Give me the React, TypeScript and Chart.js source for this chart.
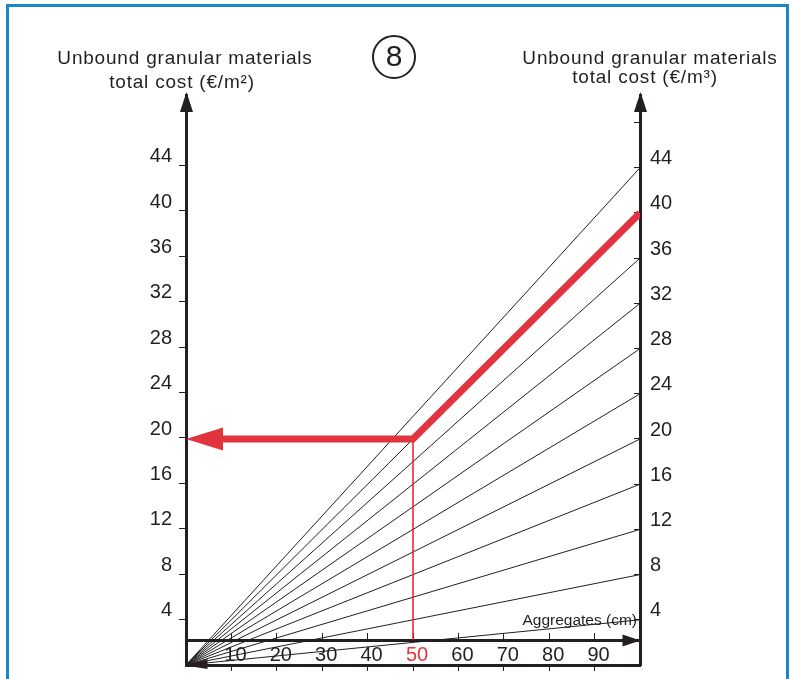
import React, { useEffect, useRef } from 'react';
import { Chart, registerables } from 'chart.js';

Chart.register(...registerables);

// ---------------- data ----------------
const THICKNESS_TICKS_CM = [10, 20, 30, 40, 50, 60, 70, 80, 90];
const COST_M2_TICKS = [4, 8, 12, 16, 20, 24, 28, 32, 36, 40, 44];
const COST_M3_TICKS = [4, 8, 12, 16, 20, 24, 28, 32, 36, 40, 44];
const COST_M3_MARKS = [4, 8, 12, 16, 20, 24, 28, 32, 36, 40, 44, 48];
const COST_M3_LINES = [4, 8, 12, 16, 20, 24, 28, 32, 36, 40, 44];
const EXAMPLE_THICKNESS_CM = [100, 50];
const EXAMPLE_COST = [40, 20]; // €/m³ at 100 cm -> €/m² at 50 cm
const HIGHLIGHT_TICK = 50;

const LEFT_TITLE = ['Unbound granular materials', 'total cost (€/m²)'];
const RIGHT_TITLE = ['Unbound granular materials', 'total cost (€/m³)'];
const X_TITLE = 'Aggregates (cm)';
const STEP_NUMBER = '8';

// ---------------- style ----------------
const BLACK = '#231f20';
const RED = '#e1343f';
const RED_THIN = '#ec1c24';
const BLUE = '#1a88c6';
const FONT = "'Liberation Sans', Arial, Helvetica, sans-serif";
const AGG_AXIS_Y = 2.2; // where the aggregates axis crosses the left scale
const ARROW_STOP_CM = 6;

const clear = 'rgba(0,0,0,0)';
const markColor = (list: number[]) => (c: any) =>
  c.tick && list.includes(c.tick.value) ? BLACK : clear;

const fixSize = (w: number | null, h: number | null) => (s: any) => {
  if (w !== null) s.width = w;
  if (h !== null) s.height = h;
  s.paddingTop = 0;
  s.paddingBottom = 0;
  s.paddingLeft = 0;
  s.paddingRight = 0;
};

function tri(ctx: CanvasRenderingContext2D, pts: number[][], color: string) {
  ctx.beginPath();
  ctx.moveTo(pts[0][0], pts[0][1]);
  for (let i = 1; i < pts.length; i++) ctx.lineTo(pts[i][0], pts[i][1]);
  ctx.closePath();
  ctx.fillStyle = color;
  ctx.fill();
}

const decorPlugin = {
  id: 'decor',
  beforeDraw(chart: any) {
    const ctx: CanvasRenderingContext2D = chart.ctx;
    const { left, right } = chart.chartArea;
    ctx.save();
    ctx.strokeStyle = BLUE;
    ctx.lineWidth = 3;
    ctx.strokeRect(7.5, 5.5, 780, 720);

    ctx.fillStyle = BLACK;
    ctx.font = `19px ${FONT}`;
    ctx.textAlign = 'center';
    ctx.textBaseline = 'alphabetic';
    (ctx as any).letterSpacing = '0.8px';
    ctx.fillText(LEFT_TITLE[0], left - 1, 64);
    ctx.fillText(LEFT_TITLE[1], left - 4, 88);
    ctx.fillText(RIGHT_TITLE[0], right + 10, 64);
    ctx.fillText(RIGHT_TITLE[1], right + 5, 83);
    (ctx as any).letterSpacing = '0px';

    ctx.beginPath();
    ctx.arc(394, 57, 21, 0, Math.PI * 2);
    ctx.lineWidth = 2;
    ctx.strokeStyle = BLACK;
    ctx.stroke();
    ctx.font = `30px ${FONT}`;
    ctx.textBaseline = 'middle';
    ctx.fillText(STEP_NUMBER, 394, 58);
    ctx.restore();
  },
  beforeDatasetsDraw(chart: any) {
    const ctx: CanvasRenderingContext2D = chart.ctx;
    const { right } = chart.chartArea;
    const ay = chart.scales.y.getPixelForValue(AGG_AXIS_Y);
    ctx.save();
    ctx.fillStyle = BLACK;
    ctx.font = `15.5px ${FONT}`;
    ctx.textAlign = 'right';
    ctx.textBaseline = 'alphabetic';
    ctx.fillText(X_TITLE, right - 3, ay - 15);
    ctx.restore();
  },
  afterDatasetsDraw(chart: any) {
    const ctx: CanvasRenderingContext2D = chart.ctx;
    const { left, right, top, bottom } = chart.chartArea;
    const xs = chart.scales.x;
    const y = chart.scales.y;
    const y2 = chart.scales.y2;
    ctx.save();
    const lx = left + 0.5;
    const rx = right + 0.5;
    // vertical axis arrows
    tri(ctx, [[lx, top - 3], [lx - 6.5, top + 17], [lx + 6.5, top + 17]], BLACK);
    tri(ctx, [[rx, top - 3], [rx - 6.5, top + 17], [rx + 6.5, top + 17]], BLACK);
    // aggregates axis arrow
    const ay = y.getPixelForValue(AGG_AXIS_Y) + 0.5;
    tri(ctx, [[rx, ay], [rx - 18, ay - 6], [rx - 18, ay + 6]], BLACK);
    // origin arrow
    tri(ctx, [[lx - 1, bottom + 0.5], [lx + 21, bottom - 6], [lx + 21, bottom + 4]], BLACK);
    // red arrow
    const tipX = xs.getPixelForValue(0);
    const tipY = y2.getPixelForValue(EXAMPLE_COST[1]);
    tri(ctx, [[tipX, tipY], [tipX + 37, tipY - 11.5], [tipX + 37, tipY + 11.5]], RED);
    ctx.restore();
  },
};

export default function App() {
  const ref = useRef<HTMLCanvasElement | null>(null);

  useEffect(() => {
    if (!ref.current) return;
    const tickFont = { family: FONT, size: 20 };

    const fan = COST_M3_LINES.map((v) => ({
      label: `${v} €/m³`,
      data: [
        { x: 0, y: 0 },
        { x: 100, y: v },
      ],
      borderColor: BLACK,
      borderWidth: 1,
      pointRadius: 0,
      showLine: true,
      xAxisID: 'x',
      yAxisID: 'y2',
    }));

    const redPath = {
      label: 'example',
      data: [
        { x: EXAMPLE_THICKNESS_CM[0], y: EXAMPLE_COST[0] },
        { x: EXAMPLE_THICKNESS_CM[1], y: EXAMPLE_COST[1] },
        { x: ARROW_STOP_CM, y: EXAMPLE_COST[1] },
      ],
      borderColor: RED,
      borderWidth: 7,
      borderJoinStyle: 'miter',
      borderCapStyle: 'butt',
      pointRadius: 0,
      showLine: true,
      xAxisID: 'x',
      yAxisID: 'y2',
    };

    const redDrop = {
      label: 'drop',
      data: [
        { x: EXAMPLE_THICKNESS_CM[1], y: EXAMPLE_COST[1] },
        { x: EXAMPLE_THICKNESS_CM[1], y: AGG_AXIS_Y },
      ],
      borderColor: RED_THIN,
      borderWidth: 1.5,
      pointRadius: 0,
      showLine: true,
      xAxisID: 'x',
      yAxisID: 'y',
    };

    const chart = new Chart(ref.current, {
      type: 'scatter',
      data: { datasets: [redPath, redDrop, ...fan] as any },
      plugins: [decorPlugin as any],
      options: {
        animation: false,
        responsive: false,
        devicePixelRatio: 1,
        events: [],
        layout: { padding: { top: 95, left: 0, right: 0, bottom: 0 } },
        plugins: { legend: { display: false }, tooltip: { enabled: false }, title: { display: false } },
        scales: {
          x: {
            type: 'linear',
            position: 'bottom',
            min: 0,
            max: 100,
            afterFit: fixSize(null, 14),
            ticks: { stepSize: 10, display: false },
            grid: { drawOnChartArea: false, drawTicks: true, tickLength: 6, lineWidth: 1, color: markColor(THICKNESS_TICKS_CM) },
            border: { display: true, color: BLACK, width: 3 },
          },
          x2: {
            type: 'linear',
            axis: 'x',
            position: { y: AGG_AXIS_Y },
            min: 0,
            max: 100,
            afterFit: fixSize(null, 0),
            ticks: {
              stepSize: 10,
              padding: 12,
              labelOffset: 4,
              autoSkip: false,
              maxRotation: 0,
              font: tickFont,
              color: (c: any) => (c.tick && c.tick.value === HIGHLIGHT_TICK ? RED : BLACK),
              callback: (v: any) => (THICKNESS_TICKS_CM.includes(v) ? String(v) : ''),
            },
            grid: { drawOnChartArea: false, drawTicks: true, tickLength: -9, lineWidth: 1, color: markColor(THICKNESS_TICKS_CM) },
            border: { display: true, color: BLACK, width: 3 },
          },
          y: {
            type: 'linear',
            position: 'left',
            min: 0,
            max: 50.22,
            afterFit: fixSize(186, null),
            ticks: {
              stepSize: 4,
              includeBounds: false,
              padding: 7,
              labelOffset: -9,
              autoSkip: false,
              font: tickFont,
              color: BLACK,
              callback: (v: any) => (COST_M2_TICKS.includes(v) ? String(v) : ''),
            },
            grid: { drawOnChartArea: false, drawTicks: true, tickLength: 7, lineWidth: 1, color: markColor(COST_M2_TICKS) },
            border: { display: true, color: BLACK, width: 3 },
          },
          y2: {
            type: 'linear',
            position: 'right',
            min: 0,
            max: 50.44,
            afterFit: fixSize(152, null),
            ticks: {
              stepSize: 4,
              includeBounds: false,
              padding: 16,
              labelOffset: -9,
              autoSkip: false,
              font: tickFont,
              color: BLACK,
              callback: (v: any) => (COST_M3_TICKS.includes(v) ? String(v) : ''),
            },
            grid: { drawOnChartArea: false, drawTicks: true, tickLength: -6, lineWidth: 1, color: markColor(COST_M3_MARKS) },
            border: { display: true, color: BLACK, width: 3 },
          },
        },
      } as any,
    });

    return () => chart.destroy();
  }, []);

  return (
    <div style={{ position: 'absolute', left: 0, top: 0, width: 792, height: 679, background: '#fff' }}>
      <canvas ref={ref} width={792} height={679} style={{ display: 'block', width: 792, height: 679 }} />
    </div>
  );
}
